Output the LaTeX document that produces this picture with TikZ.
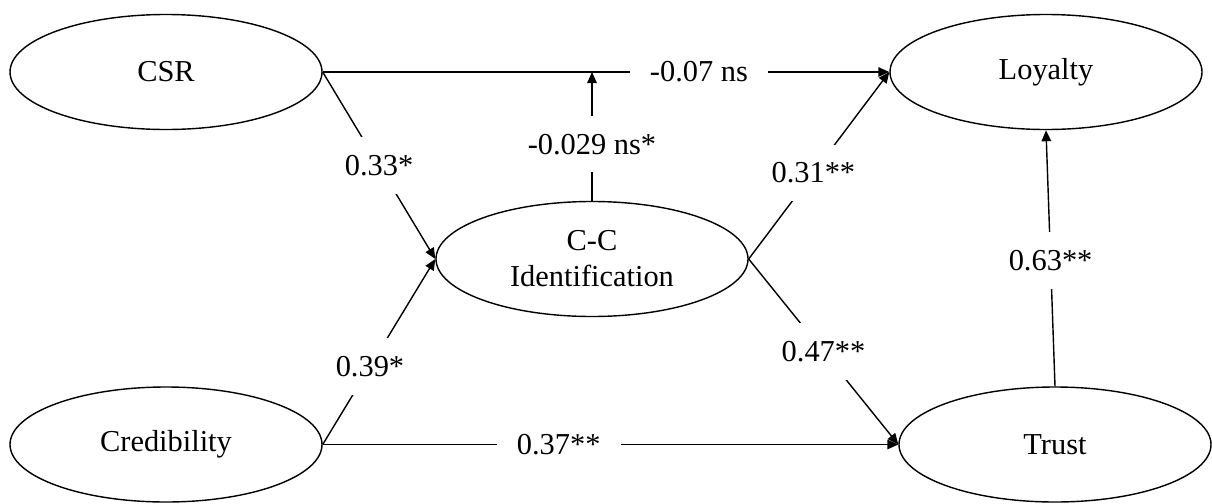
\documentclass[tikz,border=0pt]{standalone}
\usepackage{fontspec}
\setmainfont{Liberation Serif}
\usepackage{tikz}
\usetikzlibrary{arrows.meta,positioning,calc,shapes.geometric}
\tikzset{
  latent/.style={draw,ellipse,line width=0.8pt,minimum width=6.24cm,minimum height=2.3cm,
                 inner sep=0pt,align=center,font=\fontsize{17.3}{20.5}\selectfont},
  effect/.style={line width=0.8pt,-{Triangle[length=2.2mm,width=1.9mm]}},
  coef/.style={fill=white,inner xsep=0.4cm,inner ysep=0.36cm,font=\fontsize{17.3}{20.5}\selectfont}
}

\begin{document}
\begin{tikzpicture}
  \useasboundingbox (0,0) rectangle (24.24,10.06);
  % constructs
  \node[latent] (csr) at (3.32,8.62) {CSR};
  \node[latent] (loyal) at (20.92,8.62) {Loyalty};
  \node[latent] (ident) at (11.84,4.88) {C-C\\ Identification};
  \node[latent] (cred) at (3.32,1.17) {Credibility};
  \node[latent] (trust) at (21.1,1.17) {Trust};
  \coordinate (hit) at (ident.north |- csr.east);
  % structural paths
  \draw[effect] (csr.east) -- node[coef,pos=0.664] {-0.07 ns} (loyal.west);
  \draw[effect] (ident.north) -- node[coef,pos=0.44] {-0.029 ns*} (hit);
  \draw[effect] (csr.east) -- node[coef,pos=0.5] {0.33*} (ident.west);
  \draw[effect] (cred.east) -- node[coef,pos=0.42] {0.39*} (ident.west);
  \draw[effect] (ident.east) -- node[coef,pos=0.46] {0.31**} (loyal.west);
  \draw[effect] (ident.east) -- node[coef,pos=0.5] {0.47**} (trust.west);
  \draw[effect] (cred.east) -- node[coef,pos=0.41] {0.37**} (trust.west);
  \draw[effect] (trust.north) -- node[coef,pos=0.49] {0.63**} (loyal.south);
\end{tikzpicture}
\end{document}
